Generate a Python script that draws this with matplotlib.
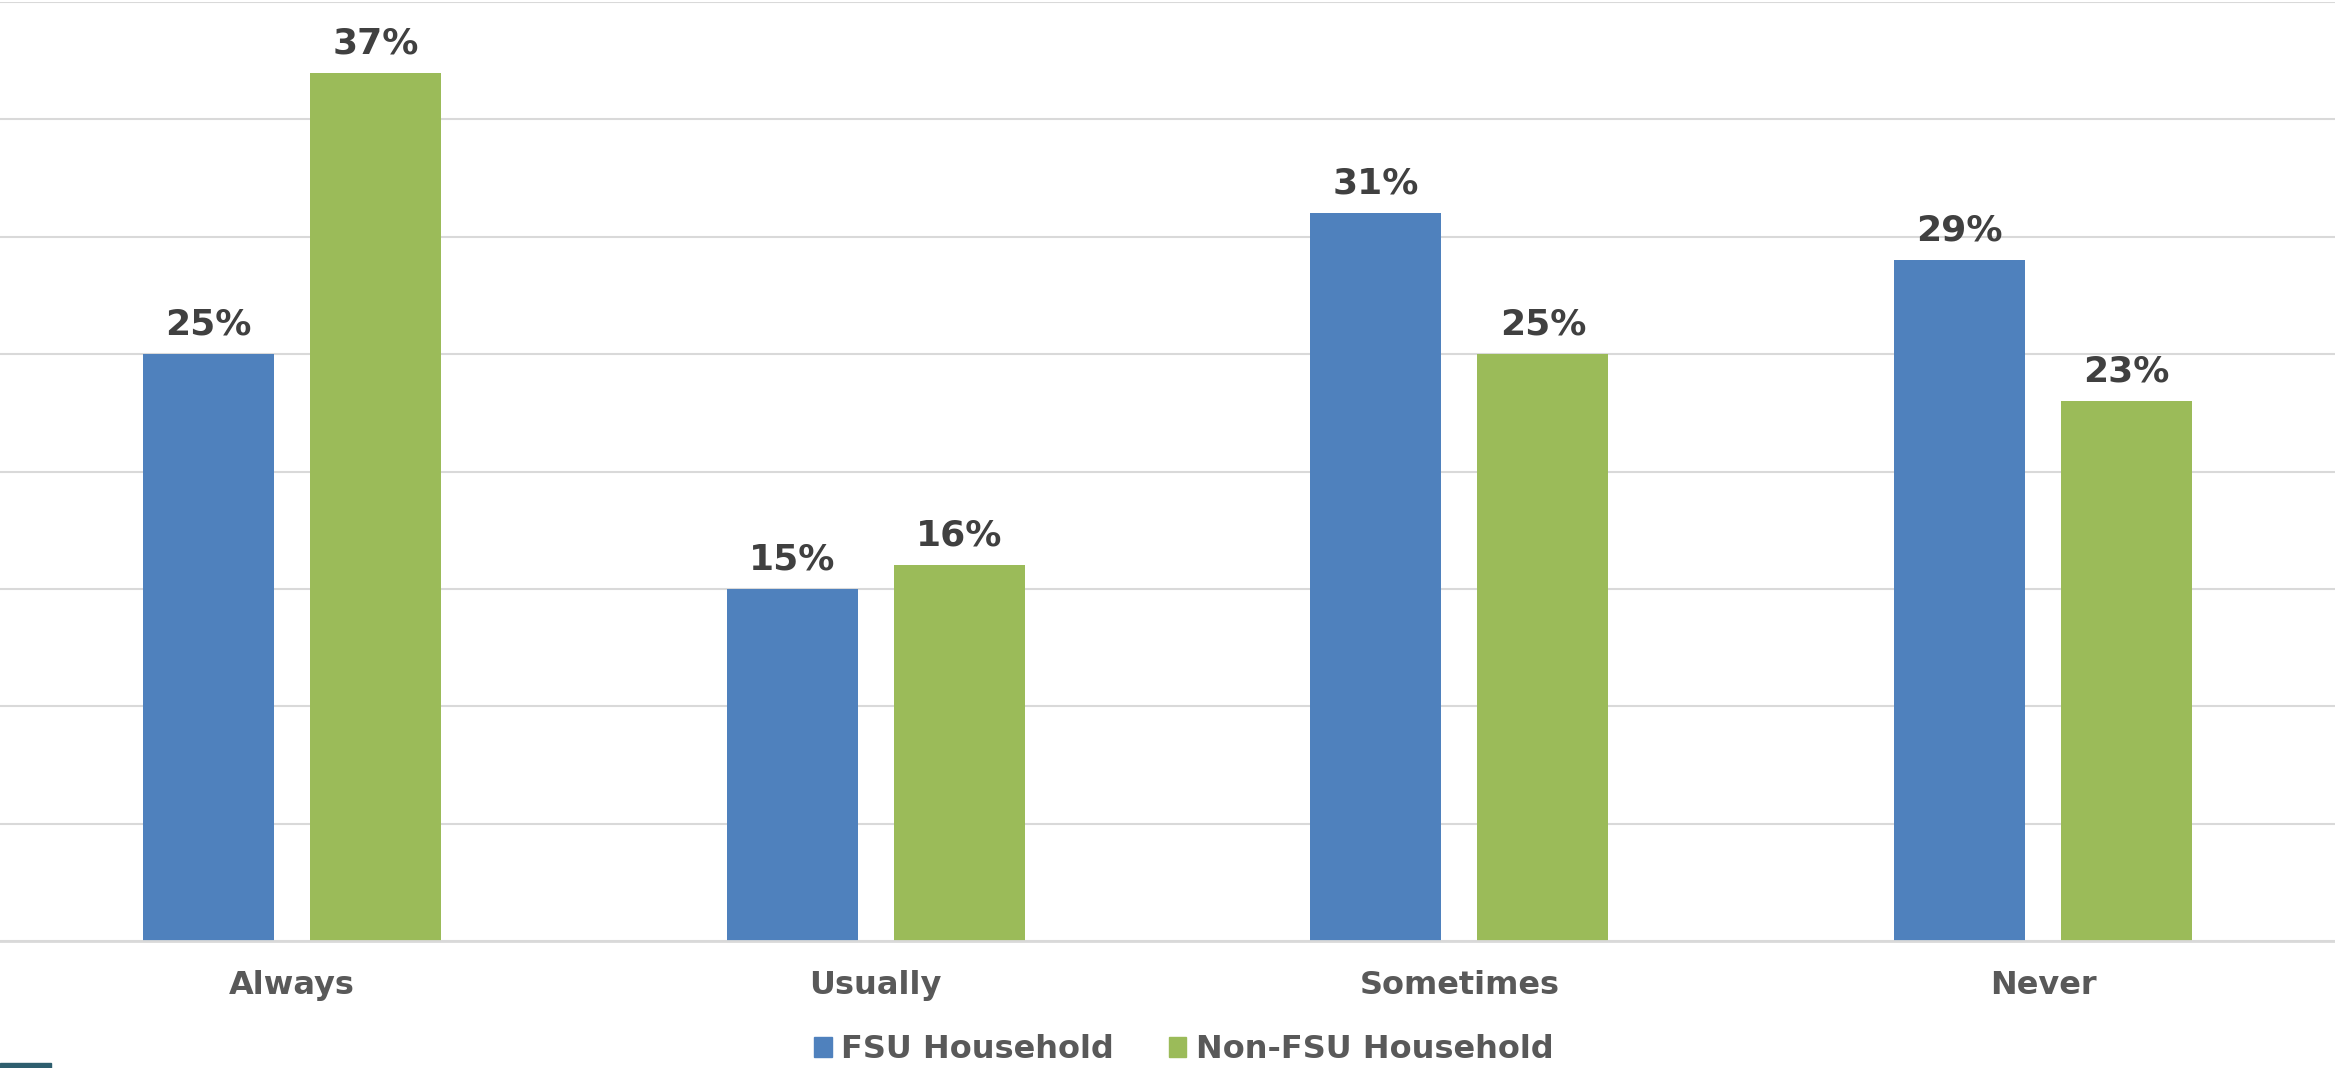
import matplotlib.pyplot as plt
from matplotlib.patches import Patch, Rectangle
import numpy as np

plt.rcParams["font.family"] = ["DejaVu Sans"]

categories = ["Always", "Usually", "Sometimes", "Never"]
fsu_values = [25, 15, 31, 29]
non_fsu_values = [37, 16, 25, 23]
series_names = ["FSU Household", "Non-FSU Household"]

blue = "#4F81BD"
green = "#9BBB59"

fig = plt.figure(figsize=(23.35, 10.68), dpi=100)
ax = fig.add_axes([0, 0.119, 1, 0.879])

x = np.arange(len(categories))
width = 0.2245
offset = 0.143
bars1 = ax.bar(x - offset, fsu_values, width, color=blue, zorder=3)
bars2 = ax.bar(x + offset, non_fsu_values, width, color=green, zorder=3)

for bars in (bars1, bars2):
	for b in bars:
		ax.annotate(f"{b.get_height():.0f}%", (b.get_x() + b.get_width() / 2, b.get_height()),
			xytext=(0, 9), textcoords="offset points", ha="center", va="bottom",
			fontsize=26, fontweight="bold", color="#404040")

ax.set_xlim(-0.5, 3.5)
ax.set_ylim(0, 40)
ax.set_yticks(np.arange(0, 41, 5))
ax.yaxis.grid(True, color="#D9D9D9", linewidth=1.5, zorder=0)
ax.tick_params(axis="y", length=0, labelleft=False)
ax.tick_params(axis="x", length=0, pad=21)
ax.set_xticks(x)
ax.set_xticklabels(categories, fontsize=23, fontweight="bold", color="#595959")
for s in ["top", "left", "right"]:
	ax.spines[s].set_visible(False)
ax.spines["bottom"].set_color("#D9D9D9")
ax.spines["bottom"].set_linewidth(2)
ax.spines["bottom"].set_zorder(4)

handles = [Patch(color=blue), Patch(color=green)]
leg = fig.legend(handles, series_names, loc="center", bbox_to_anchor=(0.507, 0.017), ncol=2,
	frameon=False, handlelength=0.55, handleheight=0.55, handletextpad=0.3, columnspacing=1.7,
	prop={"size": 23, "weight": "bold"})
for t in leg.get_texts():
	t.set_color("#595959")

# cut-off logo fragment in the lower-left corner
fig.patches.append(Rectangle((0, 0), 0.022, 0.005, transform=fig.transFigure, color="#2E5E6E"))

fig.savefig("out.png", dpi=100)
